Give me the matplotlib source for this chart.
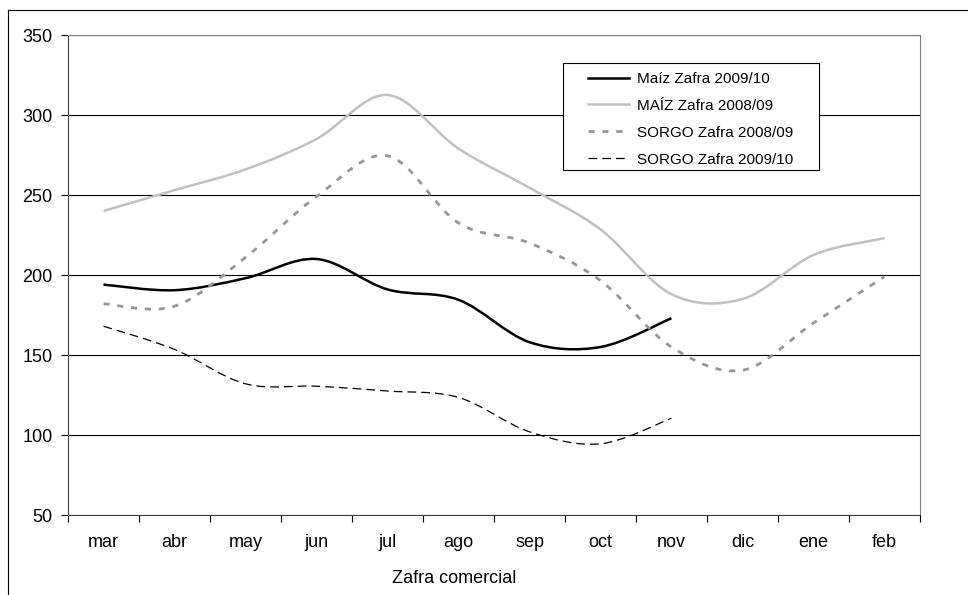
import numpy as np
import matplotlib
matplotlib.use('Agg')
import matplotlib.pyplot as plt
from matplotlib.path import Path
from matplotlib.patches import PathPatch, Rectangle
from matplotlib.lines import Line2D

plt.rcParams['font.family'] = ['Liberation Sans', 'DejaVu Sans']

months = ['mar', 'abr', 'may', 'jun', 'jul', 'ago', 'sep', 'oct', 'nov', 'dic', 'ene', 'feb']

maiz_0910 = [194, 190.5, 198, 210, 191, 184.5, 158, 155, 173]
maiz_0809 = [240, 253, 266, 285, 312.5, 279, 254.5, 228.5, 188, 185, 212.5, 223]
sorgo_0809 = [182, 180.5, 211, 249, 274.5, 232.5, 220, 196.5, 155, 140.5, 170, 199]
sorgo_0910 = [168, 153.5, 132, 130.5, 127.5, 123.5, 102, 94.5, 110.5]

series = [
    ('Maíz Zafra 2009/10', maiz_0910, dict(color='black', lw=1.8, ls='-')),
    ('MAÍZ Zafra 2008/09', maiz_0809, dict(color='#c0c0c0', lw=1.8, ls='-')),
    ('SORGO Zafra 2008/09', sorgo_0809, dict(color='#969696', lw=2.0, ls=(0, (2.2, 2.8)))),
    ('SORGO Zafra 2009/10', sorgo_0910, dict(color='black', lw=0.9, ls=(0, (7, 4)))),
]


def smooth_path(xs, ys):
    # cubic bezier segments through every point (Catmull-Rom style tangents)
    pts = np.column_stack([xs, ys]).astype(float)
    n = len(pts)
    verts = [pts[0]]
    codes = [Path.MOVETO]
    for i in range(n - 1):
        p0 = pts[i - 1] if i > 0 else pts[i]
        p1 = pts[i]
        p2 = pts[i + 1]
        p3 = pts[i + 2] if i + 2 < n else pts[i + 1]
        c1 = p1 + (p2 - p0) / 6.0
        c2 = p2 - (p3 - p1) / 6.0
        verts += [c1, c2, p2]
        codes += [Path.CURVE4] * 3
    return Path(verts, codes)


W, H = 968, 595
fig = plt.figure(figsize=(W / 100, H / 100), dpi=100)
ax_l, ax_r, ax_t, ax_b = 68, 920, 35, 515
ax = fig.add_axes([ax_l / W, 1 - ax_b / H, (ax_r - ax_l) / W, (ax_b - ax_t) / H])


def to_axes(px, py):
    return (px - ax_l) / (ax_r - ax_l), (ax_b - py) / (ax_b - ax_t)


ax.set_xlim(-0.5, len(months) - 0.5)
ax.set_ylim(50, 350)
ax.set_yticks(np.arange(50, 351, 50))
ax.yaxis.grid(True, color='black', lw=0.8)
ax.set_axisbelow(True)

handles = []
for name, vals, st in series:
    x = np.arange(len(vals))
    patch = PathPatch(smooth_path(x, vals), fill=False, edgecolor=st['color'],
                      lw=st['lw'], ls=st['ls'], capstyle='butt', zorder=3)
    ax.add_patch(patch)
    handles.append(Line2D([], [], color=st['color'], lw=st['lw'], ls=st['ls']))

ax.set_xticks(np.arange(len(months)))
ax.set_xticklabels(months)
ax.set_xticks(np.arange(-0.5, len(months)), minor=True)
ax.tick_params(axis='x', which='major', length=0, pad=14, labelsize=13)
ax.tick_params(axis='x', which='minor', length=5, width=0.8, direction='out')
ax.tick_params(axis='y', length=5, width=0.8, direction='out', labelsize=13, pad=6)

for side in ['top', 'right']:
    ax.spines[side].set_color('#808080')
    ax.spines[side].set_linewidth(0.8)
for side in ['left', 'bottom']:
    ax.spines[side].set_color('#404040')
    ax.spines[side].set_linewidth(0.8)

ax.set_xlabel('Zafra comercial', fontsize=13)
ax.xaxis.set_label_coords(0.453, -0.115)

# legend box drawn separately so the padding can be wider on the sides
x0, y0 = to_axes(563, 170)
x1, y1 = to_axes(819, 63)
ax.add_patch(Rectangle((x0, y0), x1 - x0, y1 - y0, transform=ax.transAxes,
                       facecolor='white', edgecolor='black', lw=0.8, zorder=4))
leg = ax.legend(handles, [s[0] for s in series], loc='upper left',
                bbox_to_anchor=to_axes(588, 72),
                fontsize=11, frameon=False, handlelength=2.7, handletextpad=0.5,
                borderpad=0, labelspacing=0.84, borderaxespad=0)
leg.set_zorder(5)

# outer chart border (left and top edges)
fig.add_artist(Line2D([8 / W, 8 / W], [0, 1 - 10 / H], transform=fig.transFigure,
                      color='black', lw=0.8))
fig.add_artist(Line2D([8 / W, 1], [1 - 10 / H, 1 - 10 / H], transform=fig.transFigure,
                      color='black', lw=0.8))

fig.savefig('out.png', dpi=100)
